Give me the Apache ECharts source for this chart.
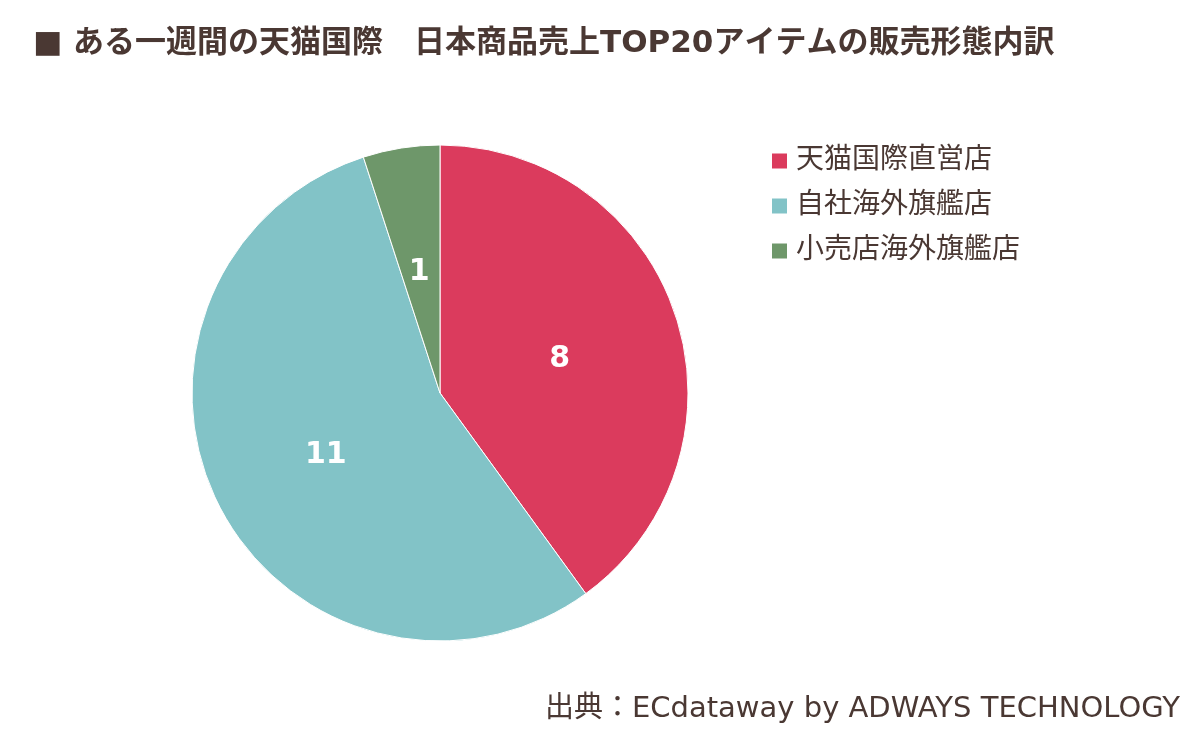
<!DOCTYPE html>
<html>
<head>
<meta charset="utf-8">
<script src="https://cdn.jsdelivr.net/npm/echarts@6/dist/echarts.min.js"></script>
<style>
  html, body { margin: 0; padding: 0; background: #fff; }
  #chart { width: 1204px; height: 741px; }
</style>
</head>
<body>
<div id="chart"></div>
<script>
const categories = ['天猫国際直営店', '自社海外旗艦店', '小売店海外旗艦店'];
const counts = [8, 11, 1];
const colors = ['#DB3B5D', '#82C3C7', '#6E976A'];

const textColor = '#4A3833';
const fontFamily = '"DejaVu Sans", "Noto Sans CJK JP", sans-serif';

const chart = echarts.init(document.getElementById('chart'));
chart.setOption({
    animation: false,
    color: colors,
    title: [{
        text: '■ ある一週間の天猫国際　日本商品売上TOP20アイテムの販売形態内訳',
        left: 28,
        top: 23,
        textStyle: { color: textColor, fontSize: 31, fontWeight: 'bold', fontFamily: fontFamily }
    }, {
        text: '出典：ECdataway by ADWAYS TECHNOLOGY',
        right: 19,
        top: 690,
        textStyle: { color: textColor, fontSize: 29, fontWeight: 'normal', fontFamily: fontFamily }
    }],
    legend: {
        orient: 'vertical',
        left: 770,
        top: 147,
        padding: 0,
        icon: 'rect',
        itemWidth: 17,
        itemHeight: 17,
        itemGap: 17,
        textStyle: { color: textColor, fontSize: 28, fontFamily: fontFamily, padding: [0, 0, 0, 3] },
        data: categories
    },
    series: [{
        type: 'pie',
        center: [440, 393],
        radius: 248,
        startAngle: 90,
        clockwise: true,
        label: {
            position: 'inside',
            formatter: '{c}',
            color: '#fff',
            fontSize: 30,
            fontWeight: 'bold',
            fontFamily: fontFamily,
            offset: [-1, 5]
        },
        labelLine: { show: false },
        itemStyle: { borderColor: '#fff', borderWidth: 1 },
        emphasis: { disabled: true },
        data: categories.map((name, i) => ({ name: name, value: counts[i] }))
    }]
});
</script>
</body>
</html>
